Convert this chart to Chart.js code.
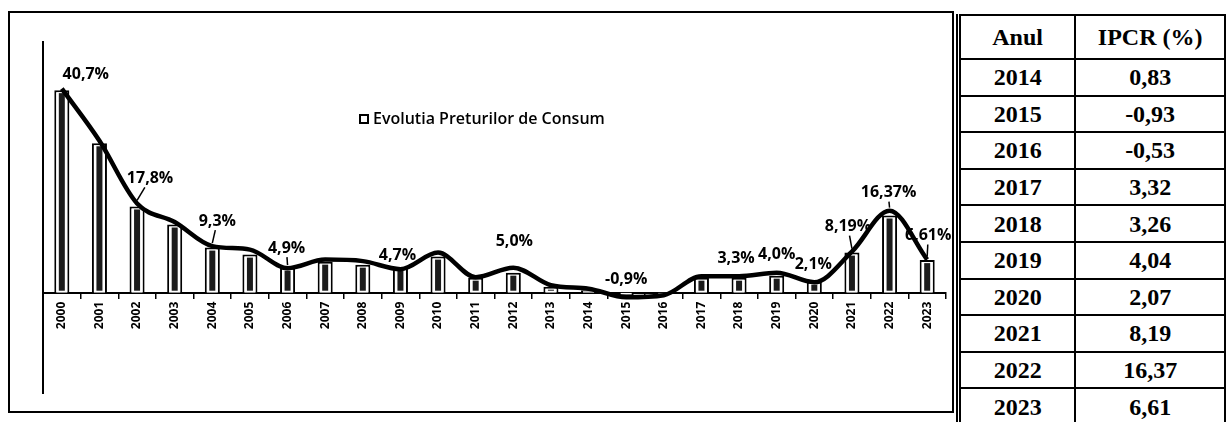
<!DOCTYPE html>
<html>
<head>
<meta charset="utf-8">
<script src="https://cdn.jsdelivr.net/npm/chart.js@4.4.1/dist/chart.umd.min.js"></script>
<style>
  html, body { margin: 0; padding: 0; background: #fff; width: 1226px; height: 422px; overflow: hidden; }
  #chartBox { position: absolute; left: 0; top: 0; width: 956px; height: 422px; }
  #frame { position: absolute; left: 8px; top: 11px; width: 946px; height: 402px; border: 2px solid #000; box-sizing: border-box; pointer-events: none; }
  #tbl { position: absolute; left: 956px; top: 14px; border-collapse: collapse; table-layout: fixed;
         font-family: "Liberation Serif", serif; font-weight: bold; font-size: 24px; color: #000;
         border-left: 5px double #000; }
  #tbl td { border: 2px solid #000; text-align: center; padding: 0; line-height: 1; }
</style>
</head>
<body>
<div id="chartBox"><canvas id="ipcChart" width="956" height="422"></canvas></div>
<div id="frame"></div>
<table id="tbl"></table>
<script>
// Anii de pe axa X
const years = ["2000", "2001", "2002", "2003", "2004", "2005", "2006", "2007", "2008", "2009", "2010", "2011",
               "2012", "2013", "2014", "2015", "2016", "2017", "2018", "2019", "2020", "2021", "2022", "2023"];
// Coloanele
const consumBars = [40.4, 29.8, 17.2, 13.6, 9.0, 7.6, 5.0, 6.2, 5.6, 5.0, 7.2, 3.0,
                    4.0, 1.2, 0.5, -0.6, -0.4, 3.0, 3.0, 3.4, 2.2, 8.0, 15.4, 6.5];
// Linia (decembrie / decembrie)
const consumLine = [40.7, 30.3, 17.8, 14.1, 9.3, 8.6, 4.9, 6.6, 6.3, 4.7, 8.0, 3.1,
                    5.0, 1.5, 0.8, -0.9, -0.5, 3.3, 3.3, 4.0, 2.1, 8.19, 16.37, 6.61];
// Etichetele de pe linie
const pointLabels = ["40,7%", null, "17,8%", null, "9,3%", null, "4,9%", null, null, "4,7%", null, null,
                     "5,0%", null, null, "-0,9%", null, null, "3,3%", "4,0%", "2,1%", "8,19%", "16,37%", "6,61%"];
const legendText = "Evolutia Preturilor de Consum";

// Tabelul din dreapta
const tableHeader = ["Anul", "IPCR (%)"];
const tableYears = ["2014", "2015", "2016", "2017", "2018", "2019", "2020", "2021", "2022", "2023"];
const tableValues = ["0,83", "-0,93", "-0,53", "3,32", "3,26", "4,04", "2,07", "8,19", "16,37", "6,61"];

// pozitia etichetelor fata de punct (dx, dy) si care au linie de legatura
const labelOffsets = { 0: [24, -14], 2: [13, -25], 4: [5, -25], 6: [-1, -20], 9: [-3, -14], 12: [1, -26],
                       15: [0, -18], 18: [-3, -18], 19: [0, -18], 20: [-1, -18], 21: [-4, -25], 22: [-1, -18], 23: [1, -24] };
const leaders = [2, 4, 6, 21, 22, 23];

// tabel
function buildTable() {
    const tbl = document.getElementById("tbl");
    let html = '<colgroup><col style="width:124px"><col style="width:160px"></colgroup>';
    html += '<tr style="height:44px"><td>' + tableHeader[0] + '</td><td>' + tableHeader[1] + '</td></tr>';
    tableYears.forEach((y, i) => {
        html += '<tr style="height:36.6px"><td>' + y + '</td><td>' + tableValues[i] + '</td></tr>';
    });
    tbl.innerHTML = html;
}
buildTable();

const decorPlugin = {
    id: "decor",
    afterDatasetDraw(chart, args) {
        if (args.index !== 0) return;
        const ctx = chart.ctx;
        ctx.save();
        ctx.fillStyle = "#1c1c1c";
        chart.getDatasetMeta(0).data.forEach(bar => {
            const top = Math.min(bar.y, bar.base);
            const h = Math.abs(bar.base - bar.y);
            if (h < 6) return;
            ctx.fillRect(bar.x - 3, top + 3, 6, h - 5);
        });
        ctx.restore();
    },
    afterDatasetsDraw(chart) {
        const ctx = chart.ctx;
        const pts = chart.getDatasetMeta(1).data;
        ctx.save();
        ctx.fillStyle = "#000";
        ctx.strokeStyle = "#000";
        ctx.font = "bold 16px 'Open Sans'";
        ctx.textAlign = "center";
        ctx.textBaseline = "middle";
        pointLabels.forEach((txt, i) => {
            if (!txt) return;
            const p = pts[i];
            const off = labelOffsets[i] || [0, -18];
            ctx.fillText(txt, p.x + off[0], p.y + off[1]);
            if (leaders.includes(i)) {
                ctx.lineWidth = 1.5;
                ctx.beginPath();
                ctx.moveTo(p.x + off[0] * 0.6, p.y + off[1] + 9);
                ctx.lineTo(p.x, p.y - 3);
                ctx.stroke();
            }
        });
        // legenda
        ctx.lineWidth = 2;
        ctx.strokeRect(360, 115, 8, 8);
        ctx.font = "600 16px 'Open Sans'";
        ctx.textAlign = "left";
        ctx.fillText(legendText, 373, 119);
        ctx.restore();
    }
};

const ctx = document.getElementById("ipcChart").getContext("2d");
new Chart(ctx, {
    data: {
        labels: years,
        datasets: [
            {
                type: "bar",
                label: legendText,
                data: consumBars,
                backgroundColor: "#fff",
                borderColor: "#000",
                borderWidth: 2,
                barPercentage: 0.4,
                categoryPercentage: 1,
                order: 2
            },
            {
                type: "line",
                label: "IPC",
                data: consumLine,
                borderColor: "#000",
                borderWidth: 4.5,
                cubicInterpolationMode: "monotone",
                pointRadius: 0,
                fill: false,
                order: 1
            }
        ]
    },
    options: {
        responsive: false,
        animation: false,
        devicePixelRatio: 1,
        layout: { padding: { left: 43, right: 10, top: 42, bottom: 29 } },
        plugins: {
            legend: { display: false },
            tooltip: { enabled: false }
        },
        scales: {
            x: {
                position: { y: 0 },
                offset: true,
                grid: { display: true, drawOnChartArea: false, drawTicks: true, tickLength: 5, color: "#000", lineWidth: 1.5, offset: true },
                border: { display: true, color: "#000", width: 2 },
                ticks: {
                    autoSkip: false, minRotation: 90, maxRotation: 90, padding: 4, color: "#000",
                    font: { family: "Open Sans", weight: "bold", size: 12 }
                }
            },
            y: {
                min: -20,
                max: 50,
                grid: { display: false, drawTicks: false },
                ticks: { display: false },
                border: { display: true, color: "#000", width: 2 }
            }
        }
    },
    plugins: [decorPlugin]
});
</script>
</body>
</html>
